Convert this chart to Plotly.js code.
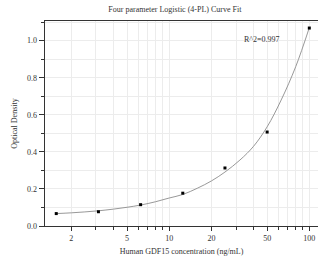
<!DOCTYPE html>
<html><head><meta charset="utf-8">
<script src="https://cdn.plot.ly/plotly-3.0.1.min.js"></script>
<style>html,body{margin:0;padding:0;background:#fff}#chart{width:318px;height:262px}</style>
</head><body><div id="chart"></div>
<script>
// Measured standards
const concentration = [1.5625, 3.125, 6.25, 12.5, 25, 50, 100];
const opticalDensity = [0.067, 0.077, 0.115, 0.177, 0.313, 0.507, 1.068];
// Fitted curve
const curveX = [1.5625, 2, 2.5, 3.125, 4, 5, 6.25, 8, 10, 12.5, 16, 20, 25, 32, 40, 50, 63, 80, 100];
const curveY = [0.067, 0.071, 0.076, 0.082, 0.091, 0.101, 0.113, 0.131, 0.151, 0.170, 0.205, 0.243, 0.291, 0.356, 0.430, 0.535, 0.680, 0.860, 1.070];
// Axis ticks
const xTickVals = [2, 5, 10, 20, 50, 100];
const xTickText = ['2', '5', '10', '20', '50', '100'];
const xMinorVals = [2, 3, 4, 5, 6, 7, 8, 9, 10, 20, 30, 40, 50, 60, 70, 80, 90, 100];
const rSquaredText = 'R^2=0.997';

const font = {family: '"Liberation Serif", "Times New Roman", serif', color: '#333', size: 8};

const traces = [
  {x: curveX, y: curveY, type: 'scatter', mode: 'lines', line: {color: '#8c8c8c', width: 0.9, shape: 'spline'}, hoverinfo: 'skip'},
  {x: concentration, y: opticalDensity, type: 'scatter', mode: 'markers', marker: {symbol: 'square', size: 3, color: '#000'}}
];

const layout = {
  width: 318, height: 262,
  margin: {l: 45, r: 0, t: 21, b: 36},
  showlegend: false,
  paper_bgcolor: '#fff', plot_bgcolor: '#fff',
  font: font,
  title: {text: 'Four parameter Logistic (4-PL) Curve Fit', font: {family: font.family, size: 8, color: '#333'}, x: 0.55, xanchor: 'center', y: 0.965, yanchor: 'middle'},
  xaxis: {
    type: 'log', range: [0.1135, 2.062],
    tickvals: xTickVals, ticktext: xTickText,
    ticks: 'outside', ticklen: 4, tickwidth: 1, tickcolor: '#333',
    showline: true, linecolor: '#333', linewidth: 1.3, mirror: true,
    showgrid: true, gridcolor: '#ececec', gridwidth: 1,
    minor: {tickvals: xMinorVals, ticks: 'outside', ticklen: 2.5, tickcolor: '#333', showgrid: true, gridcolor: '#ececec'},
    zeroline: false,
    tickfont: {family: font.family, size: 8, color: '#333'},
    title: {text: 'Human GDF15 concentration (ng/mL)', font: {family: font.family, size: 8, color: '#333'}, standoff: 6}
  },
  yaxis: {
    range: [0, 1.106], dtick: 0.2, tick0: 0, tickformat: '.1f',
    ticks: 'outside', ticklen: 5, tickwidth: 1, tickcolor: '#333',
    showline: true, linecolor: '#333', linewidth: 1.3,
    showgrid: true, gridcolor: '#ececec', gridwidth: 1,
    minor: {dtick: 0.1, ticks: 'outside', ticklen: 2.5, tickcolor: '#333', showgrid: true, gridcolor: '#ececec'},
    zeroline: false,
    tickfont: {family: font.family, size: 8, color: '#333'},
    title: {text: 'Optical Density', font: {family: font.family, size: 8, color: '#333'}, standoff: 8}
  },
  annotations: [{
    text: rSquaredText, xref: 'x', yref: 'y', x: Math.log10(45.9), y: 1.007,
    showarrow: false, font: {family: font.family, size: 8, color: '#333'}
  }]
};

Plotly.newPlot('chart', traces, layout, {displayModeBar: false, staticPlot: true});
</script></body></html>
